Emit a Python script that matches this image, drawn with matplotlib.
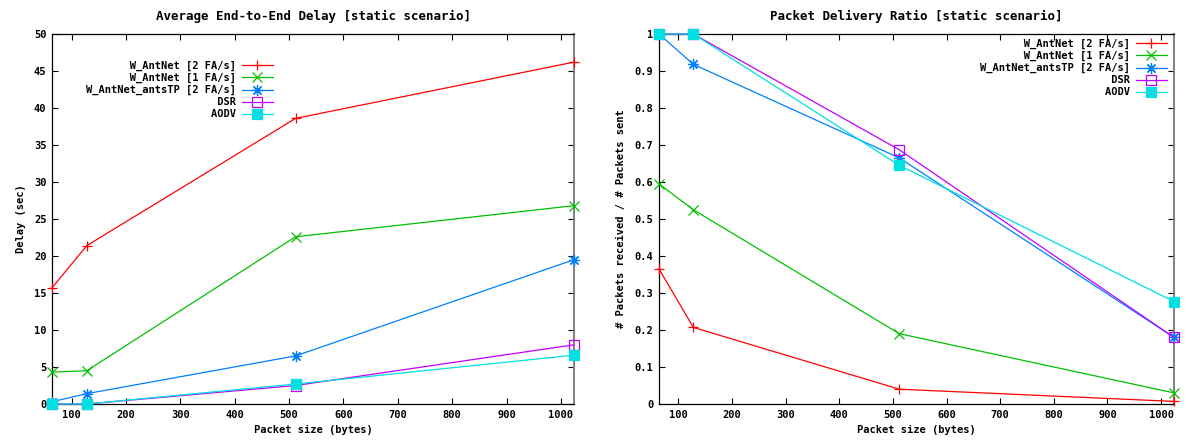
import matplotlib.pyplot as plt

# packet sizes (bytes)
sizes = [64, 128, 512, 1024]

labels = ["W_AntNet [2 FA/s]", "W_AntNet [1 FA/s]", "W_AntNet_antsTP [2 FA/s]", "DSR", "AODV"]

# average end-to-end delay (sec)
delay_2fa = [15.7, 21.4, 38.6, 46.2]
delay_1fa = [4.3, 4.5, 22.6, 26.8]
delay_antstp = [0.3, 1.4, 6.5, 19.5]
delay_dsr = [0.0, 0.0, 2.5, 8.0]
delay_aodv = [0.0, 0.0, 2.7, 6.6]

# packet delivery ratio
pdr_2fa = [0.365, 0.207, 0.040, 0.007]
pdr_1fa = [0.595, 0.525, 0.190, 0.030]
pdr_antstp = [1.0, 0.918, 0.665, 0.180]
pdr_dsr = [1.0, 1.0, 0.687, 0.180]
pdr_aodv = [1.0, 1.0, 0.645, 0.277]

colors = ["#ff0000", "#00c000", "#0080ff", "#c000ff", "#00e0e0"]
markers = ["+", "x", (8, 2, 0), "s", "s"]
msizes = [7.5, 7.5, 8, 6.5, 6.5]
mfaces = [None, None, None, "none", "#00e0e0"]

plt.rcParams["font.family"] = "DejaVu Sans Mono"
plt.rcParams["font.weight"] = "bold"
plt.rcParams["font.size"] = 7.5
plt.rcParams["axes.labelweight"] = "bold"
plt.rcParams["axes.titleweight"] = "bold"

fig = plt.figure(figsize=(11.87, 4.43), dpi=100)
ax1 = fig.add_axes([52 / 1187, 1 - 404 / 443, (574 - 52) / 1187, (404 - 34) / 443])
ax2 = fig.add_axes([659 / 1187, 1 - 404 / 443, (1174 - 659) / 1187, (404 - 34) / 443])

width = max(len(l) for l in labels)
padded = [l.rjust(width) for l in labels]


def draw(ax, series, short_pad):
    for i, ys in enumerate(series):
        kw = dict(color=colors[i], lw=0.9, marker=markers[i], ms=msizes[i],
                  mew=0.9, clip_on=False, zorder=3 + i)
        if mfaces[i] is not None:
            kw["mfc"] = mfaces[i]
        ax.plot(sizes, ys, label=short_pad[i], **kw)
    ax.set_xlim(64, 1024)
    ax.set_xticks(range(100, 1001, 100))
    ax.tick_params(direction="in", top=True, right=True, length=4, width=0.8, pad=4)
    for s in ax.spines.values():
        s.set_linewidth(0.9)
    ax.spines["right"].set_color("#808080")
    ax.spines["right"].set_linewidth(1.4)
    ax.set_xlabel("Packet size (bytes)", labelpad=4)


draw(ax1, [delay_2fa, delay_1fa, delay_antstp, delay_dsr, delay_aodv], padded)
ax1.set_ylim(0, 50)
ax1.set_yticks(range(0, 51, 5))
ax1.set_ylabel("Delay (sec)", labelpad=6)
ax1.set_title("Average End-to-End Delay [static scenario]", pad=10)
ax1.legend(loc="upper right", bbox_to_anchor=(273 / 1187, 1 - 61 / 443),
           bbox_transform=fig.transFigure, frameon=False, markerfirst=False,
           handlelength=3.0, handletextpad=0.6, labelspacing=0.18,
           borderpad=0, borderaxespad=0)

draw(ax2, [pdr_2fa, pdr_1fa, pdr_antstp, pdr_dsr, pdr_aodv], padded)
ax2.set_ylim(0, 1)
ax2.set_yticks([i / 10 for i in range(11)])
ax2.set_yticklabels(["0"] + ["0.%d" % i for i in range(1, 10)] + ["1"])
ax2.set_ylabel("# Packets received / # Packets sent", labelpad=6)
ax2.set_title("Packet Delivery Ratio [static scenario]", pad=10)
ax2.legend(loc="upper right", bbox_to_anchor=(1167 / 1187, 1 - 39 / 443),
           bbox_transform=fig.transFigure, frameon=False, markerfirst=False,
           handlelength=3.0, handletextpad=0.6, labelspacing=0.18,
           borderpad=0, borderaxespad=0)

fig.savefig("out.png", dpi=100)
